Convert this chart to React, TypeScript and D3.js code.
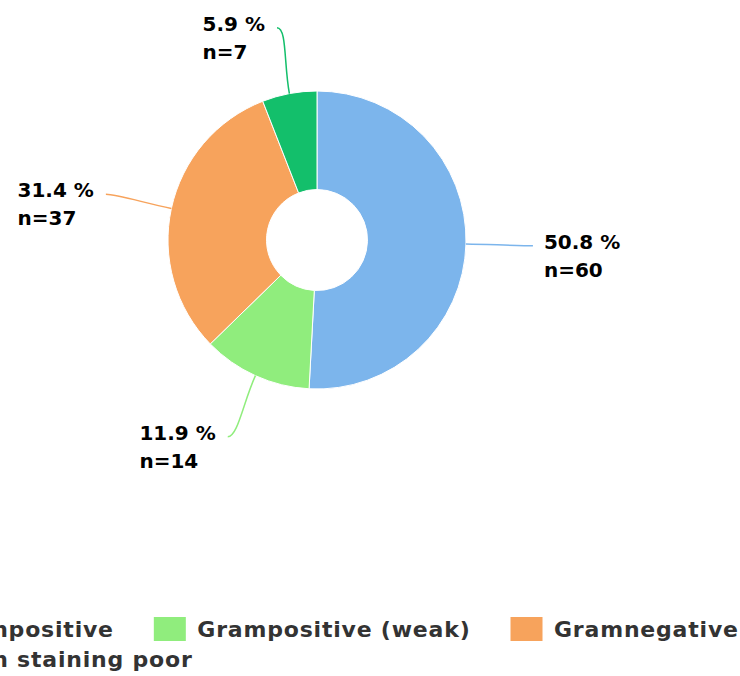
import React from 'react';
import * as d3 from 'd3';

const categories = ['Grampositive', 'Grampositive (weak)', 'Gramnegative', 'Gram staining poor'];
const counts = [60, 14, 37, 7];
const colors = ['#7cb5ec', '#90ed7d', '#f7a35c', '#13bf6b'];

const W = 740;
const H = 676;
const CX = 317;
const CY = 240;
const R_OUT = 149;
const R_IN = 50.5;
const LABEL_R = 216;
const FONT = '"DejaVu Sans", sans-serif';
const LABEL_SIZE = 20;
const LEGEND_SIZE = 22;
const LEGEND_SPACING = 0.8;

let ctx: CanvasRenderingContext2D | null = null;
function measure(text: string, size: number, spacing = 0): number {
  if (!ctx) ctx = document.createElement('canvas').getContext('2d');
  if (!ctx) return text.length * (size * 0.65 + spacing);
  ctx.font = `bold ${size}px "DejaVu Sans"`;
  return ctx.measureText(text).width + spacing * text.length;
}

export default function App() {
  const total = d3.sum(counts);
  const pie = d3.pie<number>().sort(null).value((d) => d);
  const arcs = pie(counts);
  const arcGen = d3.arc<d3.PieArcDatum<number>>().innerRadius(R_IN).outerRadius(R_OUT);
  const polar = (r: number, a: number) => [CX + r * Math.sin(a), CY - r * Math.cos(a)];

  // legend layout
  const symW = 32, symH = 24, symGap = 11.5, itemGap = 40, perRow = 3;
  const itemWidths = categories.map((c) => symW + symGap + measure(c, LEGEND_SIZE, LEGEND_SPACING));
  const rows: number[][] = [];
  categories.forEach((_, i) => {
    const r = Math.floor(i / perRow);
    (rows[r] = rows[r] || []).push(i);
  });
  const row0Width = d3.sum(rows[0].map((i) => itemWidths[i])) + itemGap * (rows[0].length - 1);
  const legendX0 = CX - row0Width / 2;
  const legendTop = 617;
  const rowH = 30;

  return (
    <svg width={W} height={H} style={{ position: 'absolute', left: 0, top: 0, background: '#fff' }}>
      <g transform={`translate(${CX},${CY})`}>
        {arcs.map((a, i) => (
          <path key={i} d={arcGen(a) || ''} fill={colors[i]} stroke="#fff" strokeWidth={1} strokeLinejoin="round" />
        ))}
      </g>
      {arcs.map((a, i) => {
        const mid = (a.startAngle + a.endAngle) / 2;
        const [ax, ay] = polar(LABEL_R, mid);
        const [tx, ty] = polar(R_OUT, mid);
        const [c2x, c2y] = polar(R_OUT + 30, mid);
        const right = Math.sin(mid) > 0;
        const c1x = ax + (right ? -10 : 10);
        const path = d3.path();
        path.moveTo(ax, ay);
        path.bezierCurveTo(c1x, ay, c2x, c2y, tx, ty);
        path.lineTo(tx, ty);
        const pct = ((counts[i] / total) * 100).toFixed(1) + ' %';
        const nTxt = 'n=' + counts[i];
        const bw = Math.max(measure(pct, LABEL_SIZE), measure(nTxt, LABEL_SIZE));
        const lx = right ? ax + 11 : ax - 12 - bw;
        return (
          <g key={'l' + i}>
            <path d={path.toString()} fill="none" stroke={colors[i]} strokeWidth={1.5} />
            <text x={lx} y={ay + 3} fontFamily={FONT} fontWeight="bold" fontSize={LABEL_SIZE} fill="#000">
              <tspan x={lx}>{pct}</tspan>
              <tspan x={lx} dy={28}>{nTxt}</tspan>
            </text>
          </g>
        );
      })}
      <g>
        {rows.map((row, r) => {
          let x = legendX0;
          return row.map((i) => {
            const sx = x;
            x += itemWidths[i] + itemGap;
            const y = legendTop + r * rowH;
            return (
              <g key={'g' + i}>
                <rect x={sx} y={y} width={symW} height={symH} fill={colors[i]} />
                <text x={sx + symW + symGap} y={y + 20} fontFamily={FONT} fontWeight="bold" fontSize={LEGEND_SIZE} letterSpacing={LEGEND_SPACING} fill="#333333">
                  {categories[i]}
                </text>
              </g>
            );
          });
        })}
      </g>
    </svg>
  );
}
